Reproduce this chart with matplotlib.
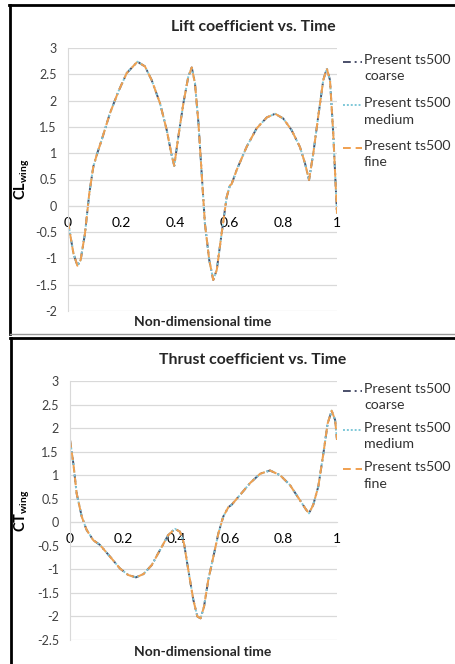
import numpy as np
import matplotlib.pyplot as plt
from matplotlib.lines import Line2D

plt.rcParams['font.family'] = ['Lato', 'DejaVu Sans']
plt.rcParams['mathtext.fontset'] = 'custom'
plt.rcParams['mathtext.rm'] = 'Lato'
plt.rcParams['mathtext.bf'] = 'Lato:bold'

# lift coefficient (all three grids overlap)
t_cl = [0.0, 0.02, 0.035, 0.047, 0.063, 0.079, 0.094, 0.107, 0.125, 0.156, 0.187,
        0.218, 0.258, 0.286, 0.311, 0.342, 0.367, 0.385, 0.395, 0.41, 0.429, 0.447,
        0.46, 0.472, 0.485, 0.497, 0.509, 0.525, 0.54, 0.553, 0.571, 0.59, 0.602,
        0.608, 0.627, 0.664, 0.701, 0.739, 0.77, 0.8, 0.831, 0.862, 0.881, 0.896,
        0.912, 0.93, 0.949, 0.962, 0.974, 0.986, 1.0]
cl_wing = [-0.3, -0.9, -1.14, -1.03, -0.53, 0.23, 0.74, 0.97, 1.25, 1.76, 2.17,
           2.52, 2.74, 2.65, 2.39, 1.95, 1.44, 0.97, 0.76, 1.31, 1.95, 2.45,
           2.63, 2.33, 1.57, 0.61, -0.34, -1.03, -1.41, -1.22, -0.53, 0.17, 0.39,
           0.41, 0.68, 1.12, 1.47, 1.68, 1.75, 1.66, 1.44, 1.12, 0.81, 0.49,
           1.0, 1.69, 2.39, 2.61, 2.39, 1.38, -0.15]

# thrust coefficient
t_ct = [0.0, 0.0125, 0.025, 0.044, 0.062, 0.087, 0.112, 0.15, 0.187, 0.218, 0.247,
        0.275, 0.306, 0.337, 0.368, 0.393, 0.412, 0.427, 0.443, 0.462, 0.477, 0.489,
        0.502, 0.518, 0.537, 0.556, 0.574, 0.593, 0.605, 0.637, 0.674, 0.712, 0.749,
        0.787, 0.824, 0.861, 0.884, 0.895, 0.911, 0.93, 0.949, 0.965, 0.98, 0.993, 1.0]
ct_wing = [1.75, 1.25, 0.61, 0.12, -0.16, -0.38, -0.48, -0.73, -0.98, -1.12, -1.17,
           -1.1, -0.91, -0.59, -0.27, -0.14, -0.2, -0.45, -1.01, -1.65, -2.0, -2.04,
           -1.79, -1.22, -0.73, -0.23, 0.12, 0.32, 0.37, 0.58, 0.83, 1.03, 1.1,
           1.0, 0.79, 0.47, 0.27, 0.19, 0.37, 0.76, 1.46, 2.1, 2.37, 2.17, 1.75]

series = ['Present ts500\ncoarse', 'Present ts500\nmedium', 'Present ts500\nfine']
styles = [dict(color='#4a4f6a', ls=(0, (4, 2, 1, 2)), lw=1.4),
          dict(color='#7fc8d8', ls=(0, (1, 1)), lw=1.4),
          dict(color='#f0a050', ls=(0, (4, 2.5)), lw=1.4)]

W, H = 456, 664
fig = plt.figure(figsize=(W / 100, H / 100), dpi=100)

def legend_box(y0, step):
    # Excel-like legend: short line then two-line label
    for i, (name, st) in enumerate(zip(series, styles)):
        ypx = y0 + i * step
        fig.add_artist(Line2D([343 / W, 362 / W], [1 - ypx / H, 1 - ypx / H],
                              transform=fig.transFigure, **st))
        fig.text(364 / W, 1 - (ypx - 8) / H, name, ha='left', va='top', fontsize=10.2,
                 color='#333333', linespacing=1.45)

def make_panel(rect, t, y, ylim, yticks, title, ylab, title_y, xlab_y, leg_y, leg_step):
    ax = fig.add_axes(rect)
    for name, st in zip(series, styles):
        ax.plot(t, y, label=name, **st)
    ax.set_xlim(0, 1)
    ax.set_ylim(*ylim)
    ax.set_yticks(yticks)
    ax.set_yticklabels([('%g' % v) for v in yticks], fontsize=9, color='#404040')
    ax.set_xticks([0, 0.2, 0.4, 0.6, 0.8, 1])
    ax.set_xticklabels(['0', '0.2', '0.4', '0.6', '0.8', '1'], fontsize=9, color='#404040')
    ax.grid(axis='y', color='#d9d9d9', lw=0.9)
    ax.set_axisbelow(True)
    for s in ['top', 'right']:
        ax.spines[s].set_visible(False)
    ax.spines['left'].set_color('#d9d9d9')
    ax.spines['bottom'].set_position(('data', 0))
    ax.spines['bottom'].set_color('#d9d9d9')
    ax.tick_params(length=0)
    ax.tick_params(axis='y', pad=8)
    ax.tick_params(axis='x', pad=8)
    ax.set_ylabel(ylab, fontsize=10.5)
    ax.yaxis.set_label_coords((32 - rect[0] * W) / (rect[2] * W), 0.5)
    fig.text(253 / W, 1 - title_y / H, title, ha='center', va='center', fontsize=11.3,
             fontweight='bold', color='#262626')
    fig.text(203 / W, 1 - xlab_y / H, 'Non-dimensional time',
             ha='center', va='center', fontsize=10, fontweight='bold', color='#262626')
    legend_box(leg_y, leg_step)
    return ax

make_panel([68 / W, 1 - 311 / H, 269 / W, 263 / H], t_cl, cl_wing, (-2, 3),
           [-2, -1.5, -1, -0.5, 0, 0.5, 1, 1.5, 2, 2.5, 3],
           'Lift coefficient vs. Time', r'$\mathbf{CL_{wing}}$', 27, 322, 62, 43)
make_panel([70 / W, 1 - 640 / H, 267 / W, 259 / H], t_ct, ct_wing, (-2.5, 3),
           [-2.5, -2, -1.5, -1, -0.5, 0, 0.5, 1, 1.5, 2, 2.5, 3],
           'Thrust coefficient vs. Time', r'$\mathbf{CT_{wing}}$', 360, 652, 391, 39)

# panel borders
def seg(x0, y0, x1, y1, c='black', lw=2.0):
    fig.add_artist(Line2D([x0 / W, x1 / W], [1 - y0 / H, 1 - y1 / H], color=c, lw=lw,
                          transform=fig.transFigure))
seg(9, 5, 456, 5)
seg(10, 5, 10, 334)
seg(10, 334, 456, 334, c='#999999', lw=1.0)
seg(10, 338, 456, 338)
seg(11, 338, 11, 664)

fig.savefig('out.png', dpi=100)
